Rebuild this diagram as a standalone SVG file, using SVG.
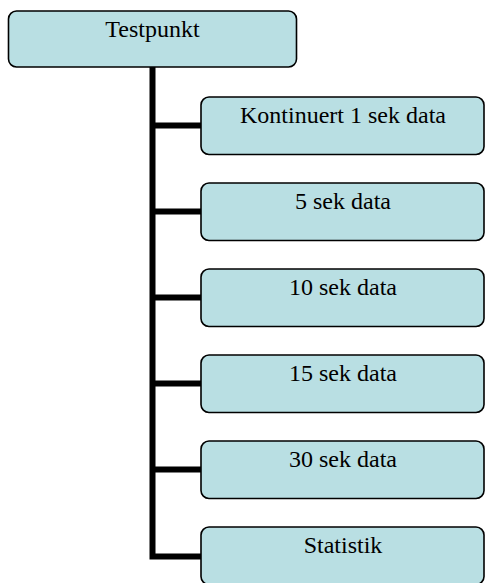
<svg xmlns="http://www.w3.org/2000/svg" width="485" height="583" viewBox="0 0 485 583">
<style>
.box{fill:#B9DFE3;stroke:#000;stroke-width:1.6}
.lbl{font-family:"Liberation Serif","Times New Roman",serif;font-size:24px;fill:#000;text-anchor:middle}
.conn{fill:none;stroke:#000;stroke-width:6;stroke-linejoin:miter}
</style>
<rect width="485" height="583" fill="#fff"/>
<g id="connectors">
<path class="conn" d="M152.5 67 V556.5 H201"/>
<path class="conn" d="M152.5 125.5 H201"/>
<path class="conn" d="M152.5 211.5 H201"/>
<path class="conn" d="M152.5 297.5 H201"/>
<path class="conn" d="M152.5 383.5 H201"/>
<path class="conn" d="M152.5 469.5 H201"/>
</g>
<g id="testpunkt">
<rect class="box" x="8.5" y="11" width="288" height="56" rx="8"/>
<text class="lbl" x="152.5" y="36.5">Testpunkt</text>
</g>
<g id="kontinuert">
<rect class="box" x="201" y="97" width="283" height="57.5" rx="8"/>
<text class="lbl" x="343" y="122.5">Kontinuert 1 sek data</text>
</g>
<g id="sek5">
<rect class="box" x="201" y="183" width="283" height="57.5" rx="8"/>
<text class="lbl" x="343" y="208.5">5 sek data</text>
</g>
<g id="sek10">
<rect class="box" x="201" y="269" width="283" height="57.5" rx="8"/>
<text class="lbl" x="343" y="294.5">10 sek data</text>
</g>
<g id="sek15">
<rect class="box" x="201" y="355" width="283" height="57.5" rx="8"/>
<text class="lbl" x="343" y="380.5">15 sek data</text>
</g>
<g id="sek30">
<rect class="box" x="201" y="441" width="283" height="57.5" rx="8"/>
<text class="lbl" x="343" y="466.5">30 sek data</text>
</g>
<g id="statistik">
<rect class="box" x="201" y="527" width="283" height="57.5" rx="8"/>
<text class="lbl" x="343" y="552.5">Statistik</text>
</g>
</svg>
